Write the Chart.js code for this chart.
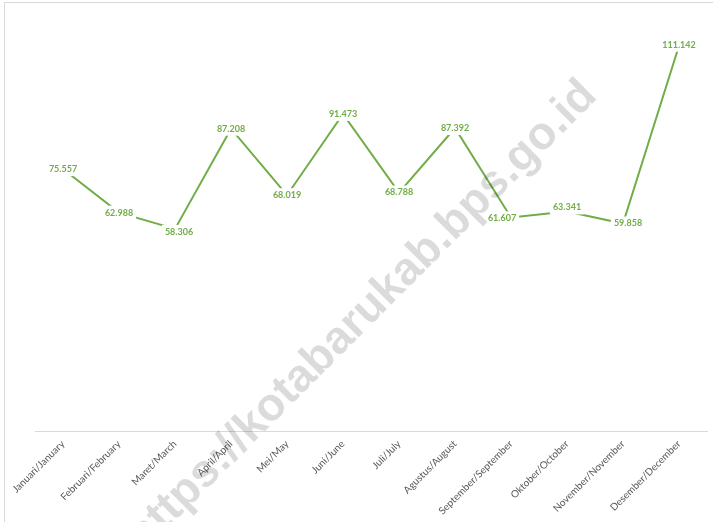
<!DOCTYPE html>
<html>
<head>
<meta charset="utf-8">
<script src="https://cdn.jsdelivr.net/npm/chart.js@4.4.1/dist/chart.umd.min.js"></script>
<style>
  html, body { margin: 0; padding: 0; background: #fff; overflow: hidden; }
  .wrap { position: relative; width: 713px; height: 522px; }
  .frame { position: absolute; left: 4px; top: 2px; width: 760px; height: 600px; border: 1px solid #d9d9d9; box-sizing: border-box; }
  canvas { position: absolute; left: 0; top: 0; }
</style>
</head>
<body>
<div class="wrap">
  <div class="frame"></div>
  <canvas id="myChart" width="713" height="522"></canvas>
</div>
<script>
const months = [
    "Januari/January", "Februari/February", "Maret/March", "April/April",
    "Mei/May", "Juni/June", "Juli/July", "Agustus/August",
    "September/September", "Oktober/October", "November/November", "Desember/December"
];
const values = [75.557, 62.988, 58.306, 87.208, 68.019, 91.473, 68.788, 87.392, 61.607, 63.341, 59.858, 111.142];
const valueLabels = ["75.557", "62.988", "58.306", "87.208", "68.019", "91.473", "68.788", "87.392", "61.607", "63.341", "59.858", "111.142"];

const green = "#70AD47";
const watermarkText = "https://kotabarukab.bps.go.id";

// geser label sedikit seperti posisi otomatis Excel (dx, dy)
const labelShift = [[0, 0], [0, 0], [4, 3], [0, 0], [0, 0], [0, 0], [0, 0], [0, 0], [-9, 1], [0, -4], [5, 0], [0, -1]];

// label kotak putih di atas titik
const pointLabels = {
    id: "pointLabels",
    afterDatasetsDraw(chart) {
        const ctx = chart.ctx;
        const meta = chart.getDatasetMeta(0);
        ctx.save();
        ctx.font = "bold 9px Lato";
        ctx.textAlign = "center";
        ctx.textBaseline = "middle";
        meta.data.forEach((pt, i) => {
            const txt = valueLabels[i];
            const w = ctx.measureText(txt).width;
            const x = pt.x + labelShift[i][0];
            const y = pt.y + labelShift[i][1];
            ctx.fillStyle = "#ffffff";
            ctx.fillRect(x - w / 2 - 3, y - 7, w + 6, 14);
            ctx.fillStyle = green;
            ctx.fillText(txt, x, y);
        });
        ctx.restore();
    }
};

const watermark = {
    id: "watermark",
    afterDraw(chart) {
        const ctx = chart.ctx;
        ctx.save();
        ctx.translate(362, 316);
        ctx.rotate(-Math.PI / 4);
        ctx.font = "bold 46px 'Liberation Sans'";
        ctx.textAlign = "center";
        ctx.textBaseline = "middle";
        ctx.fillStyle = "rgba(0,0,0,0.14)";
        ctx.fillText(watermarkText, 0, 0);
        ctx.restore();
    }
};

const ctx = document.getElementById("myChart").getContext("2d");
const myChart = new Chart(ctx, {
    type: "line",
    data: {
        labels: months,
        datasets: [{
            data: values,
            borderColor: green,
            borderWidth: 2,
            pointRadius: 0,
            tension: 0,
            fill: false
        }]
    },
    options: {
        responsive: false,
        animation: false,
        layout: { padding: { left: 35, right: 6, top: 15, bottom: 0 } },
        plugins: {
            legend: { display: false },
            tooltip: { enabled: false }
        },
        scales: {
            x: {
                offset: true,
                grid: { display: false, drawTicks: false },
                border: { color: "#d9d9d9", width: 1 },
                ticks: {
                    color: "#595959",
                    font: { family: "Lato", size: 10 },
                    minRotation: 45,
                    maxRotation: 45,
                    autoSkip: false,
                    padding: 7
                },
                afterFit: (scale) => { scale.height = 91; }
            },
            y: {
                display: false,
                min: 0,
                max: 120
            }
        }
    },
    plugins: [pointLabels, watermark]
});
</script>
</body>
</html>
